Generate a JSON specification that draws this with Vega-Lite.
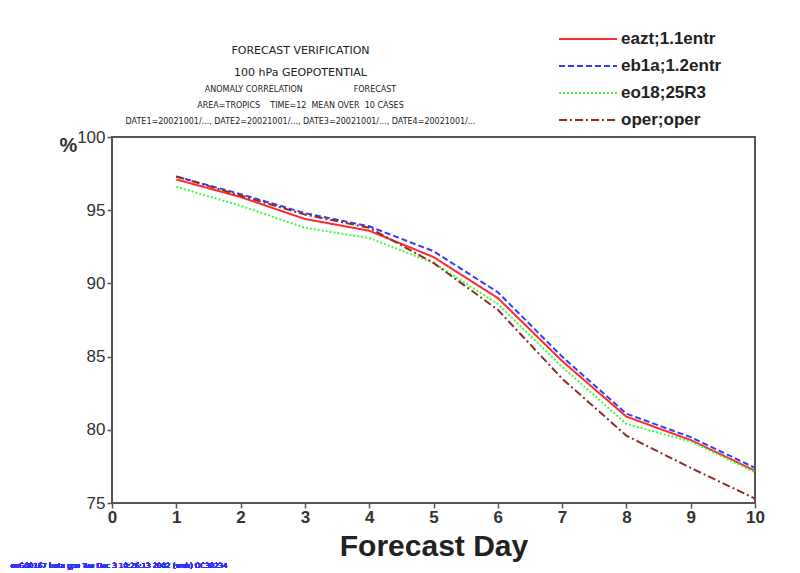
{
  "$schema": "https://vega.github.io/schema/vega-lite/v6.json",
  "autosize": "none",
  "width": 643,
  "height": 366,
  "padding": {"left": 112, "top": 137, "right": 45, "bottom": 70},
  "background": "white",
  "title": {
    "text": ["FORECAST VERIFICATION", "100 hPa GEOPOTENTIAL"],
    "subtitle": ["ANOMALY CORRELATION\u00a0\u00a0\u00a0\u00a0\u00a0\u00a0\u00a0\u00a0\u00a0\u00a0\u00a0\u00a0\u00a0\u00a0\u00a0\u00a0\u00a0\u00a0\u00a0\u00a0FORECAST", "AREA=TROPICS\u00a0\u00a0\u00a0\u00a0TIME=12\u00a0\u00a0MEAN OVER\u00a0\u00a010 CASES", "DATE1=20021001/..., DATE2=20021001/..., DATE3=20021001/..., DATE4=20021001/..."],
    "anchor": "middle",
    "dx": -133,
    "offset": -98,
    "font": "DejaVu Sans",
    "fontSize": 11,
    "fontWeight": "normal",
    "lineHeight": 22,
    "color": "#222",
    "subtitleFont": "DejaVu Sans",
    "subtitleFontSize": 8,
    "subtitleLineHeight": 16,
    "subtitleColor": "#222",
    "subtitlePadding": 8
  },
  "data": {
    "values": [
      {"day": 1, "series": "eazt;1.1entr", "ac": 97.1},
      {"day": 2, "series": "eazt;1.1entr", "ac": 95.9},
      {"day": 3, "series": "eazt;1.1entr", "ac": 94.4},
      {"day": 4, "series": "eazt;1.1entr", "ac": 93.6},
      {"day": 5, "series": "eazt;1.1entr", "ac": 91.8},
      {"day": 6, "series": "eazt;1.1entr", "ac": 89.0},
      {"day": 7, "series": "eazt;1.1entr", "ac": 84.7},
      {"day": 8, "series": "eazt;1.1entr", "ac": 80.9},
      {"day": 9, "series": "eazt;1.1entr", "ac": 79.3},
      {"day": 10, "series": "eazt;1.1entr", "ac": 77.2},
      {"day": 1, "series": "eb1a;1.2entr", "ac": 97.3},
      {"day": 2, "series": "eb1a;1.2entr", "ac": 96.1},
      {"day": 3, "series": "eb1a;1.2entr", "ac": 94.8},
      {"day": 4, "series": "eb1a;1.2entr", "ac": 93.9},
      {"day": 5, "series": "eb1a;1.2entr", "ac": 92.2},
      {"day": 6, "series": "eb1a;1.2entr", "ac": 89.4},
      {"day": 7, "series": "eb1a;1.2entr", "ac": 85.0},
      {"day": 8, "series": "eb1a;1.2entr", "ac": 81.1},
      {"day": 9, "series": "eb1a;1.2entr", "ac": 79.5},
      {"day": 10, "series": "eb1a;1.2entr", "ac": 77.4},
      {"day": 1, "series": "eo18;25R3", "ac": 96.6},
      {"day": 2, "series": "eo18;25R3", "ac": 95.3},
      {"day": 3, "series": "eo18;25R3", "ac": 93.8},
      {"day": 4, "series": "eo18;25R3", "ac": 93.1},
      {"day": 5, "series": "eo18;25R3", "ac": 91.4},
      {"day": 6, "series": "eo18;25R3", "ac": 88.6},
      {"day": 7, "series": "eo18;25R3", "ac": 84.3},
      {"day": 8, "series": "eo18;25R3", "ac": 80.4},
      {"day": 9, "series": "eo18;25R3", "ac": 79.2},
      {"day": 10, "series": "eo18;25R3", "ac": 77.1},
      {"day": 1, "series": "oper;oper", "ac": 97.3},
      {"day": 2, "series": "oper;oper", "ac": 96.0},
      {"day": 3, "series": "oper;oper", "ac": 94.7},
      {"day": 4, "series": "oper;oper", "ac": 93.8},
      {"day": 5, "series": "oper;oper", "ac": 91.4},
      {"day": 6, "series": "oper;oper", "ac": 88.2},
      {"day": 7, "series": "oper;oper", "ac": 83.5},
      {"day": 8, "series": "oper;oper", "ac": 79.6},
      {"day": 9, "series": "oper;oper", "ac": 77.4},
      {"day": 10, "series": "oper;oper", "ac": 75.3}
    ]
  },
  "layer": [
    {
      "mark": {"type": "line", "strokeWidth": 2, "clip": true},
      "encoding": {
        "x": {
          "field": "day", "type": "quantitative",
          "scale": {"domain": [0, 10], "nice": false, "zero": false},
          "axis": {
            "title": "Forecast Day", "values": [0,1,2,3,4,5,6,7,8,9,10], "format": "d", "grid": false,
            "domain": false, "tickSize": 5, "tickColor": "#555", "tickWidth": 1.5,
            "labelFont": "Liberation Sans", "labelFontSize": 17, "labelFontWeight": "bold", "labelColor": "#333",
            "labelPadding": 1, "labelFlush": false,
            "titleFont": "Liberation Sans", "titleFontSize": 30, "titleFontWeight": "bold", "titleColor": "#222",
            "titlePadding": 6
          }
        },
        "y": {
          "field": "ac", "type": "quantitative",
          "scale": {"domain": [75, 100], "nice": false, "zero": false},
          "axis": {
            "title": "%", "values": [75, 80, 85, 90, 95, 100], "grid": false,
            "domain": false, "tickSize": 5, "tickColor": "#555", "tickWidth": 1.5,
            "labelFont": "Liberation Sans", "labelFontSize": 17, "labelColor": "#333", "labelPadding": 2,
            "labelFlush": false,
            "titleFont": "Liberation Sans", "titleFontSize": 20, "titleFontWeight": "bold", "titleColor": "#333",
            "titleAngle": 0, "titleX": -44, "titleY": 8, "titleAlign": "center", "titleBaseline": "middle"
          }
        },
        "color": {
          "field": "series", "type": "nominal",
          "scale": {"domain": ["eazt;1.1entr", "eb1a;1.2entr", "eo18;25R3", "oper;oper"], "range": ["#ff2a2a", "#3a3aff", "#3cff3c", "#8c2e26"]},
          "legend": {
            "title": null, "orient": "none", "legendX": 465, "legendY": -109,
            "symbolType": "M-2.9,0H2.9", "symbolSize": 400, "symbolStrokeWidth": 2,
            "labelFont": "Liberation Sans", "labelFontSize": 17, "labelFontWeight": "bold", "labelColor": "#222",
            "labelOffset": 22, "rowPadding": 8, "labelLimit": 200
          }
        },
        "strokeDash": {
          "field": "series", "type": "nominal",
          "scale": {"domain": ["eazt;1.1entr", "eb1a;1.2entr", "eo18;25R3", "oper;oper"], "range": [[1, 0], [6, 3], [2, 2], [8, 3, 2, 3]]},
          "legend": null
        }
      }
    },
    {
      "mark": {"type": "text", "align": "left", "baseline": "middle", "fontSize": 7, "font": "DejaVu Sans", "color": "#3030ff", "clip": false},
      "encoding": {
        "x": {"datum": -1.58},
        "y": {"datum": 70.7},
        "text": {"value": "eoG00167 beta gpe Tue Dec  3 10:26:13 2002 (web) OC30234"}
      }
    }
  ],
  "config": {
    "view": {"stroke": "#555", "strokeWidth": 2}
  }
}
